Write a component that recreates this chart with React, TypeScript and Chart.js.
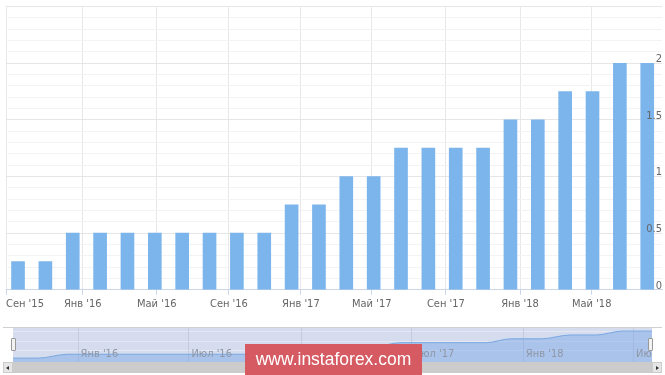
import React, { useEffect, useRef } from 'react';
import { Chart, registerables } from 'chart.js';

Chart.register(...registerables);

// FOMC meeting dates (one bar each) and the upper bound of the rate, %
const meetingDates = [
  '2015-09-17', '2015-10-28', '2015-12-16', '2016-01-27', '2016-03-16', '2016-04-27',
  '2016-06-15', '2016-07-27', '2016-09-21', '2016-11-02', '2016-12-14', '2017-02-01',
  '2017-03-15', '2017-05-03', '2017-06-14', '2017-07-26', '2017-09-20', '2017-11-01',
  '2017-12-13', '2018-01-31', '2018-03-21', '2018-05-02', '2018-06-13', '2018-08-01',
];
const rateValues = [
  0.25, 0.25, 0.5, 0.5, 0.5, 0.5,
  0.5, 0.5, 0.5, 0.5, 0.75, 0.75,
  1, 1, 1.25, 1.25, 1.25, 1.25,
  1.5, 1.5, 1.75, 1.75, 2, 2,
];

// main x axis labels and where they fall, in bar-index units (ordinal axis)
const xTickLabels = ["Сен '15", "Янв '16", "Май '16", "Сен '16", "Янв '17", "Май '17", "Сен '17", "Янв '18", "Май '18"];
const xTickPositions = [-0.44, 2.365, 5.07, 7.71, 10.34, 12.93, 15.64, 18.35, 20.97];
const X_MIN = -0.44;
const X_MAX = 23.54;

// y axis grid values and labelled values
const yGridValues = [
  0, 0.1, 0.2, 0.3, 0.4, 0.5, 0.6, 0.7, 0.8, 0.9, 1, 1.1, 1.2,
  1.3, 1.4, 1.5, 1.6, 1.7, 1.8, 1.9, 2, 2.1, 2.2, 2.3, 2.4, 2.5,
];
const yLabelValues = [0, 0.5, 1, 1.5, 2];
const yMajorValues = [0, 0.5, 1, 1.5, 2, 2.5];
const Y_MIN = 0;
const Y_MAX = 2.5;

// navigator labels
const navTickDates = ['2016-01-01', '2016-07-01', '2017-01-01', '2017-07-01', '2018-01-01', '2018-07-01'];
const navTickLabels = ["Янв '16", "Июл '16", "Янв '17", "Июл '17", "Янв '18", 'Ию...'];

const FONT = '"Liberation Sans", Arial, Helvetica, sans-serif';
const NARROW = '"Liberation Sans Narrow", "DejaVu Sans Condensed", "Liberation Sans", Arial, sans-serif';

const inList = (list: number[], v: number) => list.some((x) => Math.abs(x - v) < 1e-6);

export default function App() {
  const mainRef = useRef<HTMLCanvasElement | null>(null);
  const navRef = useRef<HTMLCanvasElement | null>(null);

  useEffect(() => {
    const main = new Chart(mainRef.current as HTMLCanvasElement, {
      type: 'bar',
      data: {
        datasets: [
          {
            data: rateValues.map((v, i) => ({ x: i, y: v })),
            backgroundColor: '#7cb5ec',
            borderWidth: 0,
            barThickness: 13,
            yAxisID: 'y',
          } as any,
        ],
      },
      options: {
        animation: false,
        responsive: false,
        maintainAspectRatio: false,
        layout: { padding: { left: 6, right: 3, top: 0, bottom: 0 } },
        plugins: { legend: { display: false }, tooltip: { enabled: false } },
        scales: {
          x: {
            type: 'linear',
            min: X_MIN,
            max: X_MAX,
            offset: false,
            afterBuildTicks: (scale: any) => {
              scale.ticks = [...xTickPositions.map((v) => ({ value: v })), { value: X_MAX }];
            },
            ticks: {
              autoSkip: false,
              maxRotation: 0,
              align: 'inner',
              padding: 3,
              color: '#666666',
              font: { family: NARROW, size: 11 },
              callback: (_v: any, i: number) => xTickLabels[i] ?? '',
            },
            grid: {
              offset: false,
              color: (c: any) => (c.index >= xTickPositions.length ? 'rgba(0,0,0,0)' : '#e8e8e8'),
              tickColor: (c: any) => (c.index >= xTickPositions.length ? 'rgba(0,0,0,0)' : '#ccd6eb'),
              tickLength: 5,
            },
            border: { color: '#ccd6eb', width: 1 },
          } as any,
          // grid lines (behind the bars)
          y: {
            type: 'linear',
            position: 'right',
            min: Y_MIN,
            max: Y_MAX,
            afterBuildTicks: (scale: any) => {
              scale.ticks = yGridValues.map((v) => ({ value: v }));
            },
            ticks: {
              autoSkip: false,
              mirror: true,
              padding: 0,
              color: 'rgba(0,0,0,0)',
              font: { family: NARROW, size: 11 },
              callback: () => '',
            },
            grid: {
              drawTicks: false,
              color: (c: any) => (inList(yMajorValues, c.tick.value) ? '#e6e6e6' : '#f3f3f3'),
            },
            border: { display: false },
          } as any,
          // tick labels (drawn above the bars)
          yLabels: {
            type: 'linear',
            position: 'right',
            min: Y_MIN,
            max: Y_MAX,
            afterBuildTicks: (scale: any) => {
              scale.ticks = yLabelValues.map((v) => ({ value: v }));
            },
            ticks: {
              z: 1,
              autoSkip: false,
              mirror: true,
              padding: 0,
              labelOffset: -4,
              color: '#666666',
              font: { family: NARROW, size: 11 },
              callback: (v: any) => String(Number(v)),
            },
            grid: { display: false, drawTicks: false },
            border: { display: false },
          } as any,
        },
      },
    });

    const navPlugin = {
      id: 'navDecor',
      beforeDatasetsDraw(chart: any) {
        const { ctx, chartArea, scales } = chart;
        ctx.save();
        ctx.fillStyle = '#d4dcee';
        ctx.fillRect(chartArea.left, chartArea.top, chartArea.right - chartArea.left, chartArea.bottom - chartArea.top);
        ctx.strokeStyle = 'rgba(255,255,255,0.35)';
        ctx.lineWidth = 1;
        [0.1, 0.38, 0.65].forEach((f) => {
          const y = Math.round(chartArea.top + f * (chartArea.bottom - chartArea.top)) + 0.5;
          ctx.beginPath();
          ctx.moveTo(chartArea.left, y);
          ctx.lineTo(chartArea.right, y);
          ctx.stroke();
        });
        ctx.strokeStyle = '#c3cbdd';
        navTickDates.forEach((d) => {
          const x = Math.round(scales.x.getPixelForValue(Date.parse(d))) + 0.5;
          ctx.beginPath();
          ctx.moveTo(x, chartArea.top);
          ctx.lineTo(x, chartArea.bottom);
          ctx.stroke();
        });
        ctx.restore();
      },
      afterDatasetsDraw(chart: any) {
        const { ctx, chartArea, scales } = chart;
        ctx.save();
        ctx.fillStyle = '#8f97a6';
        ctx.font = `11px ${NARROW}`;
        ctx.textBaseline = 'middle';
        navTickDates.forEach((d, i) => {
          const x = scales.x.getPixelForValue(Date.parse(d));
          ctx.fillText(navTickLabels[i], x + 3, chartArea.bottom - 8);
        });
        ctx.restore();
      },
    };

    const nav = new Chart(navRef.current as HTMLCanvasElement, {
      type: 'line',
      data: {
        datasets: [
          {
            data: meetingDates.map((d, i) => ({ x: Date.parse(d), y: rateValues[i] })),
            borderColor: '#78a7e2',
            borderWidth: 1,
            backgroundColor: 'rgba(120,165,228,0.45)',
            fill: 'origin',
            pointRadius: 0,
            cubicInterpolationMode: 'monotone',
          } as any,
        ],
      },
      options: {
        animation: false,
        responsive: false,
        maintainAspectRatio: false,
        layout: { padding: 0 },
        plugins: { legend: { display: false }, tooltip: { enabled: false } },
        scales: {
          x: {
            type: 'linear',
            display: false,
            min: Date.parse(meetingDates[0]),
            max: Date.parse(meetingDates[meetingDates.length - 1]),
          },
          y: { type: 'linear', display: false, min: 0, max: 2.2 },
        },
      },
      plugins: [navPlugin],
    });

    return () => {
      main.destroy();
      nav.destroy();
    };
  }, []);

  const handle = (left: number): React.CSSProperties => ({
    position: 'absolute',
    left,
    top: 338,
    width: 5,
    height: 13,
    background: '#f2f2f2',
    border: '1px solid #999999',
    borderRadius: 1,
    boxSizing: 'border-box',
  });

  return (
    <div style={{ position: 'absolute', left: 0, top: 0, width: 665, height: 375, background: '#ffffff', overflow: 'hidden' }}>
      <canvas ref={mainRef} width={665} height={314} style={{ position: 'absolute', left: 0, top: 0, display: 'block' }} />
      {/* navigator outline */}
      <div style={{ position: 'absolute', left: 3, top: 327, width: 659, height: 1, background: '#d0d0d0' }} />
      <canvas ref={navRef} width={639} height={34} style={{ position: 'absolute', left: 13, top: 328, display: 'block' }} />
      <div style={handle(11)} />
      <div style={handle(648)} />
      {/* scrollbar */}
      <div style={{ position: 'absolute', left: 3, top: 362, width: 659, height: 11, background: '#f2f2f2', borderTop: '1px solid #cccccc', boxSizing: 'border-box' }} />
      <div style={{ position: 'absolute', left: 13, top: 362, width: 639, height: 11, background: '#cccccc' }} />
      <div style={{ position: 'absolute', left: 3, top: 362, width: 10, height: 11, background: '#e6e6e6', border: '1px solid #cccccc', boxSizing: 'border-box' }}>
        <div style={{ position: 'absolute', left: 2, top: 3, width: 0, height: 0, borderTop: '2px solid transparent', borderBottom: '2px solid transparent', borderRight: '3px solid #333333' }} />
      </div>
      <div style={{ position: 'absolute', left: 652, top: 362, width: 10, height: 11, background: '#e6e6e6', border: '1px solid #cccccc', boxSizing: 'border-box' }}>
        <div style={{ position: 'absolute', left: 3, top: 3, width: 0, height: 0, borderTop: '2px solid transparent', borderBottom: '2px solid transparent', borderLeft: '3px solid #333333' }} />
      </div>
      {/* watermark */}
      <div
        style={{
          position: 'absolute',
          left: 245,
          top: 344,
          width: 177,
          height: 31,
          background: '#d65a62',
          color: '#ffffff',
          fontFamily: FONT,
          fontSize: 17.5,
          lineHeight: '31px',
          textAlign: 'center',
          whiteSpace: 'nowrap',
        }}
      >
        www.instaforex.com
      </div>
    </div>
  );
}
